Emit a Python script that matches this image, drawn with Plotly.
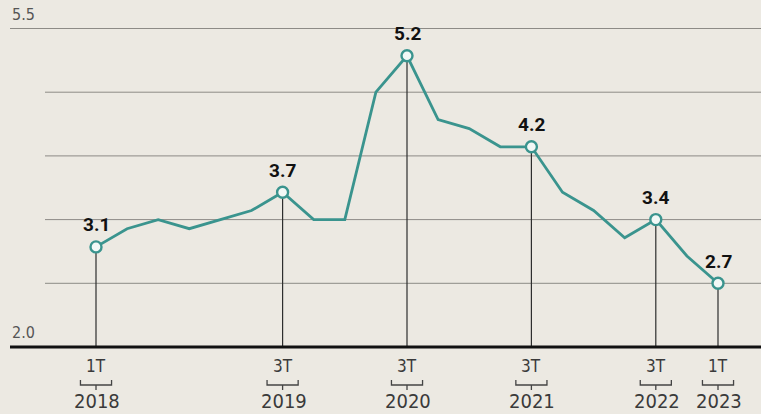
import plotly.graph_objects as go

# Quarterly series 2018-1T .. 2023-1T
values = [3.1, 3.3, 3.4, 3.3, 3.4, 3.5, 3.7, 3.4, 3.4, 4.8, 5.2,
          4.5, 4.4, 4.2, 4.2, 3.7, 3.5, 3.2, 3.4, 3.0, 2.7]
highlight_idx = [0, 6, 10, 14, 18, 20]
quarter_labels = ["1T", "3T", "3T", "3T", "3T", "1T"]
year_labels = ["2018", "2019", "2020", "2021", "2022", "2023"]
gridvals = [2.7, 3.4, 4.1, 4.8]
y_min_label, y_max_label = 2.0, 5.5

W, H = 761, 414
x0px, xstep = 96.0, 31.1
y0px, ystep = 347.0, 91.0
xr = [-x0px / xstep, (W - x0px) / xstep]
yr = [2.0 - (H - y0px) / ystep, 2.0 + y0px / ystep]

def pyv(dy):  # value at given pixel offset below baseline
    return 2.0 - dy / ystep

teal = "#3a948e"
bg = "#ece9e2"
fontname = "DejaVu Sans Condensed, Liberation Sans Narrow, Roboto, sans-serif"

xs = list(range(len(values)))
fig = go.Figure()

shapes = []
for g in gridvals:
    shapes.append(dict(type="line", xref="paper", yref="y", x0=45 / W, x1=1, y0=g, y1=g,
                       line=dict(color="#8d8b86", width=1), layer="below"))
shapes.append(dict(type="line", xref="paper", yref="y", x0=10 / W, x1=1, y0=y_max_label, y1=y_max_label,
                   line=dict(color="#8d8b86", width=1), layer="below"))
for i in highlight_idx:
    shapes.append(dict(type="line", xref="x", yref="y", x0=i, x1=i, y0=y_min_label, y1=values[i],
                       line=dict(color="#2e2e2e", width=1.2), layer="below"))
shapes.append(dict(type="line", xref="paper", yref="y", x0=10 / W, x1=1, y0=y_min_label, y1=y_min_label,
                   line=dict(color="#111111", width=3)))
for i in highlight_idx:
    yb = pyv(38)
    yt = pyv(33)
    yc = pyv(43)
    path = (f"M {i-0.5},{yt} L {i-0.5},{yb} L {i+0.5},{yb} L {i+0.5},{yt} "
            f"M {i},{yb} L {i},{yc}")
    shapes.append(dict(type="path", xref="x", yref="y", path=path,
                       line=dict(color="#444444", width=1.3)))

fig.add_trace(go.Scatter(x=xs, y=values, mode="lines",
                         line=dict(color=teal, width=2.8), hoverinfo="skip"))
fig.add_trace(go.Scatter(x=highlight_idx, y=[values[i] for i in highlight_idx], mode="markers",
                         marker=dict(size=11, color="#f2f8f6", line=dict(color=teal, width=2.4)),
                         hoverinfo="skip"))

ann = []
for i in highlight_idx:
    ann.append(dict(x=i, y=values[i], xref="x", yref="y", text=f"{values[i]:.1f}", showarrow=False,
                    yshift=22, font=dict(family="Roboto, sans-serif", size=19, color="#111111", weight="bold")))
for i, q, yl in zip(highlight_idx, quarter_labels, year_labels):
    ann.append(dict(x=i, y=pyv(19), xref="x", yref="y", text=q, showarrow=False,
                    font=dict(family=fontname, size=17, color="#3a3a3a")))
    ann.append(dict(x=i + 0.03, y=pyv(54), xref="x", yref="y", text=yl, showarrow=False,
                    font=dict(family=fontname, size=20, color="#3a3a3a")))
ann.append(dict(x=10 / W, y=y_max_label, xref="paper", yref="y", text=f"{y_max_label:.1f}", showarrow=False,
                xanchor="left", yanchor="bottom", yshift=3,
                font=dict(family=fontname, size=16, color="#555555")))
ann.append(dict(x=10 / W, y=y_min_label, xref="paper", yref="y", text=f"{y_min_label:.1f}", showarrow=False,
                xanchor="left", yanchor="bottom", yshift=3,
                font=dict(family=fontname, size=16, color="#555555")))

fig.update_layout(
    width=W, height=H, margin=dict(l=0, r=0, t=0, b=0),
    paper_bgcolor=bg, plot_bgcolor=bg, showlegend=False,
    xaxis=dict(range=xr, visible=False, fixedrange=True),
    yaxis=dict(range=yr, visible=False, fixedrange=True),
    shapes=shapes, annotations=ann,
)

fig.write_html("out.html", config={"displayModeBar": False},
               post_script="document.body.style.margin='0';document.body.style.background='%s';" % bg)
